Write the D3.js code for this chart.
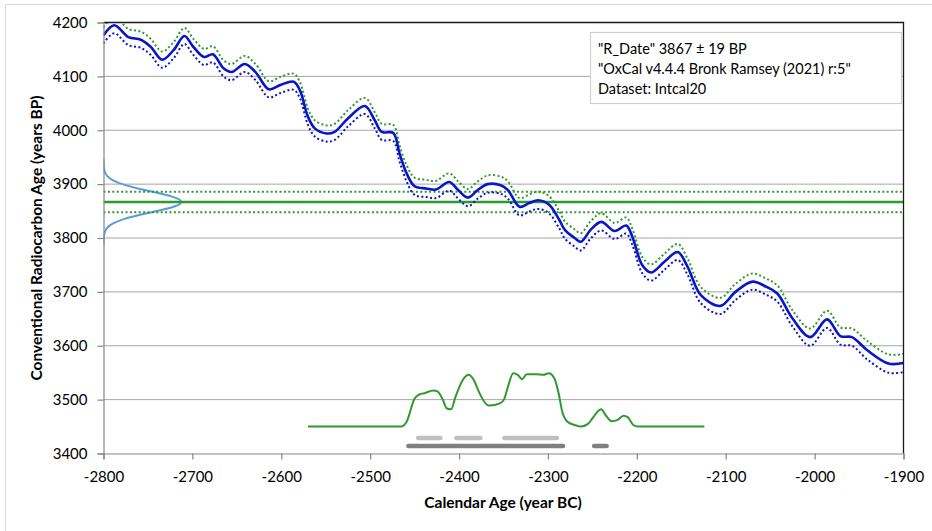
<!DOCTYPE html>
<html>
<head>
<meta charset="utf-8">
<script src="https://cdn.jsdelivr.net/npm/d3@7"></script>
<style>
  html, body { margin: 0; padding: 0; background: #fff; }
  svg { display: block; font-family: Lato, "Open Sans", sans-serif; }
</style>
</head>
<body>
<svg id="chart" width="932" height="531"></svg>
<script>
// ---------------- DATA ----------------
const xTicks = [-2800, -2700, -2600, -2500, -2400, -2300, -2200, -2100, -2000, -1900];
const yTicks = [3400, 3500, 3600, 3700, 3800, 3900, 4000, 4100, 4200];

const legendLines = [
  '"R_Date" 3867 \u00B1 19 BP',
  '"OxCal v4.4.4 Bronk Ramsey (2021) r:5"',
  'Dataset: Intcal20'
];

// R_Date
const rDate = 3867;
const rSigma = 19;

// Calibration curve (IntCal20)
const curveYears = [-2800, -2788, -2772, -2758, -2747, -2734, -2721, -2709, -2699, -2687,
  -2677, -2665, -2656, -2641, -2629, -2614, -2601, -2586, -2579, -2570,
  -2562, -2549, -2540, -2525, -2506, -2495, -2487, -2474, -2467, -2459,
  -2450, -2437, -2426, -2411, -2401, -2390, -2379, -2368, -2353, -2345,
  -2332, -2321, -2311, -2299, -2287, -2281, -2270, -2263, -2252, -2240,
  -2225, -2212, -2205, -2194, -2184, -2169, -2154, -2143, -2128, -2106,
  -2089, -2070, -2055, -2042, -2025, -2005, -1986, -1971, -1958, -1941,
  -1917, -1900];
const curveValues = [4176, 4195, 4173, 4168, 4155, 4131, 4149, 4175, 4155, 4136,
  4141, 4115, 4108, 4123, 4108, 4076, 4084, 4090, 4074, 4025,
  4003, 3994, 3997, 4022, 4045, 4019, 3997, 3995, 3957, 3920,
  3896, 3892, 3890, 3904, 3889, 3875, 3889, 3900, 3898, 3889,
  3858, 3865, 3870, 3862, 3833, 3815, 3800, 3793, 3815, 3830,
  3813, 3823, 3802, 3750, 3736, 3756, 3774, 3747, 3694, 3674,
  3700, 3719, 3710, 3697, 3651, 3616, 3649, 3618, 3616, 3592,
  3567, 3568];
const curveSigma = [15, 15, 15, 15, 15, 15, 15, 15, 15, 15,
  15, 15, 15, 15, 15, 15, 15, 15, 15, 15,
  15, 15, 15, 15, 15, 15, 15, 15, 15, 15,
  16, 16, 16, 16, 16, 16, 16, 16, 16, 16,
  16, 16, 16, 16, 16, 16, 16, 16, 16, 16,
  15, 15, 15, 15, 15, 15, 15, 15, 15, 15,
  15, 15, 15, 15, 15, 16, 16, 16, 16, 17,
  17, 17];

// Radiocarbon date probability (relative) along the age axis
const rDateAges = [3787, 3795, 3803, 3811, 3819, 3827, 3835, 3843, 3851, 3859, 3867,
  3875, 3883, 3891, 3899, 3907, 3915, 3923, 3931, 3939, 3947];
const rDateProb = [0.0001, 0.0008, 0.0034, 0.013, 0.041, 0.109, 0.242, 0.450, 0.701, 0.915, 1,
  0.915, 0.701, 0.450, 0.242, 0.109, 0.041, 0.013, 0.0034, 0.0008, 0.0001];

// Calibrated probability distribution (drawn in the age units of the chart)
const calYears = [-2570, -2465, -2459, -2450, -2444, -2439, -2429, -2424, -2418, -2414,
  -2409, -2404, -2396, -2389, -2384, -2377, -2369, -2366, -2354, -2349,
  -2345, -2339, -2334, -2329, -2324, -2313, -2305, -2299, -2293, -2288,
  -2284, -2278, -2270, -2263, -2255, -2250, -2244, -2240, -2235, -2228,
  -2222, -2215, -2210, -2204, -2199, -2124];
const calValues = [3450, 3450, 3459, 3502, 3510, 3512, 3517, 3515, 3499, 3484,
  3482, 3505, 3536, 3546, 3538, 3512, 3491, 3489, 3493, 3502,
  3524, 3549, 3546, 3538, 3547, 3547, 3546, 3549, 3540, 3512,
  3478, 3459, 3453, 3450, 3455, 3465, 3478, 3482, 3471, 3460,
  3462, 3470, 3467, 3453, 3450, 3450];

// Highest probability ranges
const range68 = [[-2446, -2421], [-2403, -2376], [-2349, -2290]];
const range95 = [[-2457, -2283], [-2248, -2234]];
const range68Level = 3429;
const range95Level = 3414;

// ---------------- CHART ----------------
const svg = d3.select('#chart');
const W = 932, H = 531;
const pL = 103.5, pR = 903.5, pT = 22.5, pB = 453.5;

const x = d3.scaleLinear().domain([-2800, -1900]).range([pL, pR]);
const y = d3.scaleLinear().domain([3400, 4200]).range([pB, pT]);

const green = '#2E9A2E';
const blue = '#0A14C8';
const lightBlue = '#5B9BD5';

// outer frame
svg.append('rect').attr('x', 5.5).attr('y', 4.5).attr('width', W + 20).attr('height', H + 20)
  .attr('fill', '#fff').attr('stroke', '#D9D9D9').attr('stroke-width', 1);

// clip
svg.append('defs').append('clipPath').attr('id', 'plotClip')
  .append('rect').attr('x', pL).attr('y', pT).attr('width', pR - pL).attr('height', pB - pT);

// gridlines
svg.append('g').selectAll('line').data(yTicks.filter(t => t > 3400 && t < 4200)).join('line')
  .attr('x1', pL).attr('x2', pR).attr('y1', d => y(d)).attr('y2', d => y(d))
  .attr('stroke', '#A6A6A6').attr('stroke-width', 1);

const plot = svg.append('g').attr('clip-path', 'url(#plotClip)');

// R_Date gaussian on the y axis
const gx = d3.scaleLinear().domain([0, 1]).range([x(-2800), x(-2710)]);
const gaussData = rDateAges.map((a, i) => [a, rDateProb[i]]);
plot.append('path').datum(gaussData)
  .attr('d', d3.line().x(d => gx(d[1])).y(d => y(d[0])).curve(d3.curveBasis))
  .attr('fill', 'none').attr('stroke', lightBlue).attr('stroke-width', 2);

// R_Date horizontal lines
[rDate + rSigma, rDate - rSigma].forEach(v => {
  plot.append('line').attr('x1', pL).attr('x2', pR).attr('y1', y(v)).attr('y2', y(v))
    .attr('stroke', green).attr('stroke-width', 2).attr('stroke-dasharray', '2,2.4');
});
plot.append('line').attr('x1', pL).attr('x2', pR).attr('y1', y(rDate)).attr('y2', y(rDate))
  .attr('stroke', green).attr('stroke-width', 2.5);

// calibration curve
const cData = curveYears.map((yr, i) => ({ yr, v: curveValues[i], s: curveSigma[i] }));
const cLine = acc => d3.line().x(d => x(d.yr)).y(d => y(acc(d))).curve(d3.curveCatmullRom.alpha(0.5));
plot.append('path').datum(cData).attr('d', cLine(d => d.v + d.s))
  .attr('fill', 'none').attr('stroke', green).attr('stroke-width', 2).attr('stroke-dasharray', '2,2.4');
plot.append('path').datum(cData).attr('d', cLine(d => d.v - d.s))
  .attr('fill', 'none').attr('stroke', blue).attr('stroke-width', 2).attr('stroke-dasharray', '2,2.4');
plot.append('path').datum(cData).attr('d', cLine(d => d.v))
  .attr('fill', 'none').attr('stroke', blue).attr('stroke-width', 2.6);

// calibrated distribution
const calData = calYears.map((yr, i) => [yr, calValues[i]]);
plot.append('path').datum(calData)
  .attr('d', d3.line().x(d => x(d[0])).y(d => y(d[1])).curve(d3.curveMonotoneX))
  .attr('fill', 'none').attr('stroke', green).attr('stroke-width', 2);

// ranges
plot.append('g').selectAll('line').data(range68).join('line')
  .attr('x1', d => x(d[0])).attr('x2', d => x(d[1]))
  .attr('y1', y(range68Level)).attr('y2', y(range68Level))
  .attr('stroke', '#BFBFBF').attr('stroke-width', 4.5).attr('stroke-linecap', 'round');
plot.append('g').selectAll('line').data(range95).join('line')
  .attr('x1', d => x(d[0])).attr('x2', d => x(d[1]))
  .attr('y1', y(range95Level)).attr('y2', y(range95Level))
  .attr('stroke', '#808080').attr('stroke-width', 4.5).attr('stroke-linecap', 'round');

// plot border top/right
svg.append('path')
  .attr('d', `M${pL},${pT}H${pR}V${pB}`)
  .attr('fill', 'none').attr('stroke', '#1A1A1A').attr('stroke-width', 1.3);

// axes
const xAxis = svg.append('g').attr('transform', `translate(0,${pB})`)
  .call(d3.axisBottom(x).tickValues(xTicks).tickFormat(d3.format('d')).tickSizeOuter(0).tickSize(6).tickPadding(12));
const yAxis = svg.append('g').attr('transform', `translate(${pL},0)`)
  .call(d3.axisLeft(y).tickValues(yTicks).tickFormat(d3.format('d')).tickSizeOuter(0).tickSize(6).tickPadding(10));
[xAxis, yAxis].forEach(a => {
  a.select('.domain').attr('stroke', '#868686').attr('stroke-width', 1.2);
  a.selectAll('.tick line').attr('stroke', '#868686').attr('stroke-width', 1.2);
  a.selectAll('.tick text').attr('fill', '#000').style('font-size', '15px').style('font-family', 'Lato, sans-serif');
});
xAxis.selectAll('.tick text').text(d => String(d));

// axis titles
svg.append('text').attr('x', 503).attr('y', 508).attr('text-anchor', 'middle')
  .style('font-weight', 'bold').style('font-size', '15.5px').text('Calendar Age (year BC)');
svg.append('text').attr('transform', `translate(42,${(pT + pB) / 2}) rotate(-90)`)
  .attr('text-anchor', 'middle')
  .style('font-weight', 'bold').style('font-size', '15.5px').text('Conventional Radiocarbon Age (years BP)');

// legend box
const lg = svg.append('g');
lg.append('rect').attr('x', 590.5).attr('y', 32.5).attr('width', 311).attr('height', 71)
  .attr('fill', '#fff').attr('stroke', '#D0D0D0').attr('stroke-width', 1.2);
lg.selectAll('text').data(legendLines).join('text')
  .attr('x', 598).attr('y', (d, i) => 54 + i * 20)
  .style('font-size', '14.5px').attr('fill', '#000').text(d => d);
</script>
</body>
</html>
